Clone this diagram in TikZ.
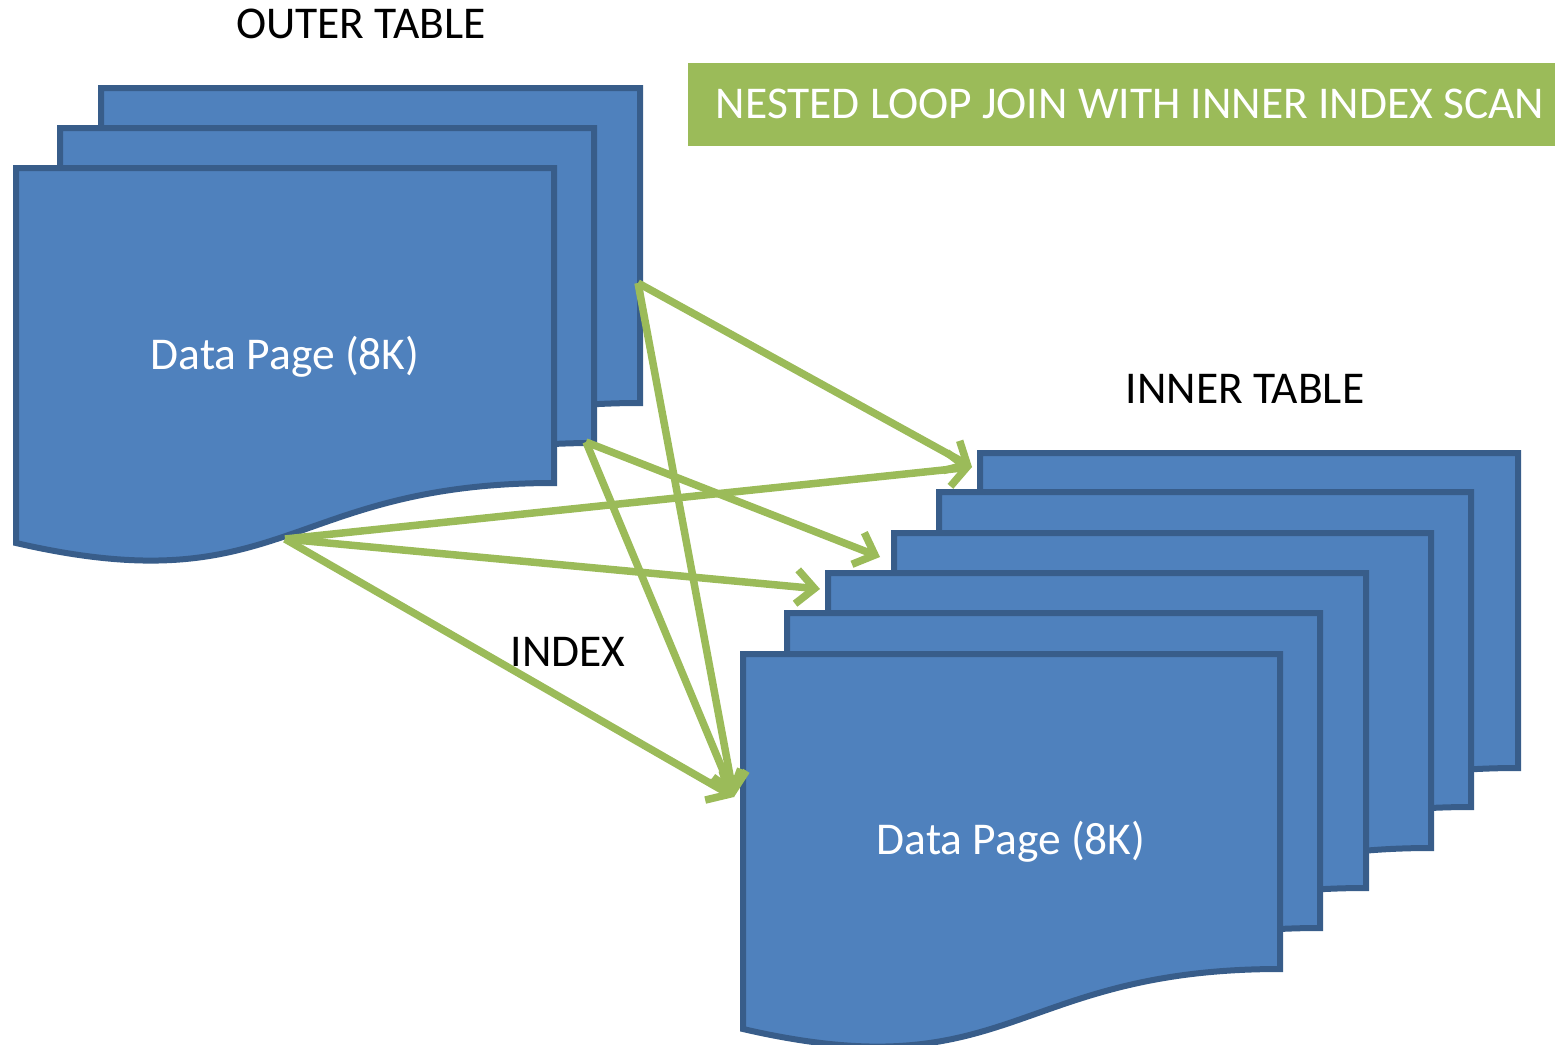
\documentclass[tikz,border=0pt]{standalone}
\usepackage{fontspec}
\setmainfont{Carlito}
\usetikzlibrary{arrows.meta}

\definecolor{pagefill}{HTML}{4F81BD}
\definecolor{pageedge}{HTML}{385D8A}
\definecolor{linkgreen}{HTML}{9BBB59}

\tikzset{
  page/.style={fill=pagefill, draw=pageedge, line width=6pt, line join=miter},
  bigtext/.style={font=\fontsize{45.5}{54}\selectfont, inner sep=0pt},
  label/.style={bigtext, text=black},
  pagetext/.style={bigtext, text=white},
  titlebox/.style={fill=linkgreen, draw=none, minimum width=867pt, minimum height=83pt, inner sep=0pt},
  link/.style={draw=linkgreen, line width=7.5pt,
    -{Straight Barb[length=18pt,width=34pt,line width=7.5pt]}}
}

% A data page drawn as a flowchart "document" shape: top-left corner (#1,#2), width #3
\newcommand\docpage[3]{%
  \begin{scope}[shift={(#1,#2)}]
    \filldraw[page] (0,0) -- (#3,0) -- (#3,315)
      .. controls (#3/2,315) and (#3/2,437) .. (0,375) -- cycle;
  \end{scope}}

\begin{document}
\begin{tikzpicture}[x=1pt,y=-1pt]
  \useasboundingbox (0,0) rectangle (1555,1044);

  % outer table: three stacked pages
  \docpage{101}{88}{539}
  \docpage{60}{128}{534}
  \docpage{16}{168}{538}

  % inner table: six stacked pages
  \docpage{980}{453}{538}
  \docpage{939}{492}{532}
  \docpage{894}{533}{537}
  \docpage{828}{573}{538}
  \docpage{787}{613}{533}
  \docpage{743}{654}{537}

  % labels
  \node[label] (outerlabel) at (361,24) {OUTER TABLE};
  \node[label] (innerlabel) at (1245,389) {INNER TABLE};
  \node[label] (indexlabel) at (568,652) {INDEX};
  \node[pagetext] (outerpage) at (285,357) {Data Page (8K)};
  \node[pagetext] (innerpage) at (1011,842) {Data Page (8K)};

  % title banner
  \node[titlebox] (banner) at (1121.5,104.5) {};
  \node[bigtext, text=white] (bannertext) at (1130,104) {NESTED LOOP JOIN WITH INNER INDEX SCAN};

  % link end points
  \coordinate (backedge)  at (638,283);
  \coordinate (midcorner) at (586,442);
  \coordinate (frontwave) at (285,539);
  \coordinate (inner1)    at (972,467);
  \coordinate (inner3)    at (880,557);
  \coordinate (inner4)    at (820,589);
  \coordinate (inner6)    at (734,797);

  % index look-ups from outer rows to inner pages
  \draw[link] (backedge)  -- (inner1);
  \draw[link] (backedge)  -- (inner6);
  \draw[link] (midcorner) -- (inner3);
  \draw[link] (midcorner) -- (inner6);
  \draw[link] (frontwave) -- (inner1);
  \draw[link] (frontwave) -- (inner4);
  \draw[link] (frontwave) -- (inner6);
\end{tikzpicture}
\end{document}
